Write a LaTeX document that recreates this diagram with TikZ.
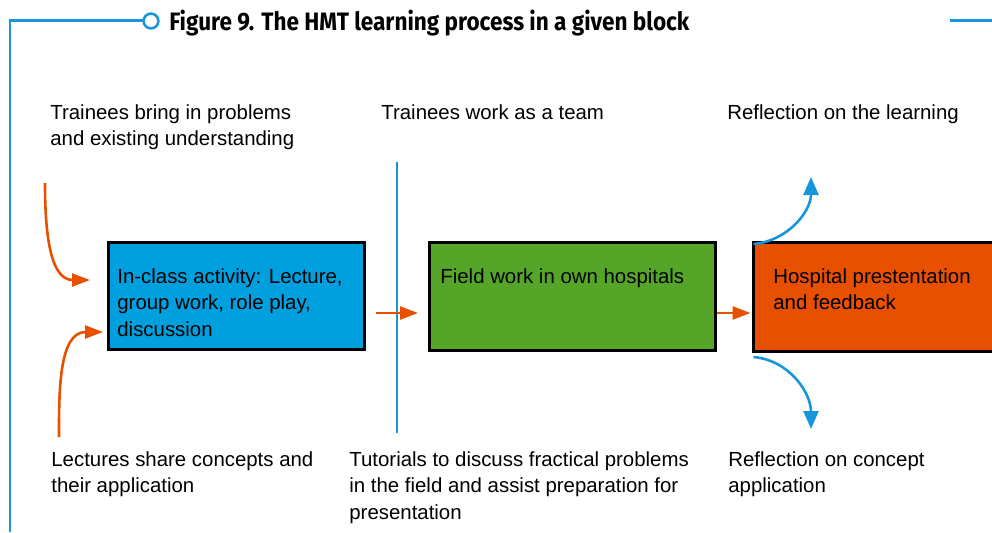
\documentclass[tikz,border=0pt]{standalone}
\usepackage{fontspec}
\usepackage{graphicx}
\usepackage{tikz}
\usetikzlibrary{arrows.meta}
\setmainfont{Liberation Sans}
\newfontfamily\titlefont{Fira Sans}
\definecolor{skybox}{RGB}{0,160,222}
\definecolor{grass}{RGB}{85,166,40}
\definecolor{ember}{RGB}{230,80,0}
\definecolor{azure}{RGB}{24,150,220}

\begin{document}
\begin{tikzpicture}[x=0.5pt, y=-0.5pt,
  box/.style={draw=black, line width=1.5pt, rectangle, inner sep=0pt},
  txt/.style={anchor=north west, inner sep=0pt, align=left, font=\fontsize{10.2}{13.25}\selectfont},
  orangearrow/.style={draw=ember, line width=1.3pt, -{Triangle[length=9pt,width=6.5pt]}},
  bluearrow/.style={draw=azure, line width=1.3pt, -{Triangle[length=9pt,width=7.5pt]}},
  frame/.style={draw=azure, line width=1.3pt}]
\useasboundingbox (0,0) rectangle (992,532);
\clip (0,0) rectangle (992,532);

% Frame and title
\draw[frame] (10,532) -- (10,20.5) -- (143,20.5);
\draw[frame] (151,21) circle (3.7pt);
\draw[frame] (950,20.5) -- (992,20.5);
\node[anchor=base west, inner sep=0pt] (title) at (169,30)
  {\resizebox{260pt}{\height}{\titlefont\bfseries\fontsize{12.6}{14}\selectfont Figure 9. The HMT learning process in a given block}};

% Boxes
\node[box, fill=skybox, minimum width=128pt, minimum height=53.5pt] (inclass) at (236.5,296) {};
\node[box, fill=grass, minimum width=143pt, minimum height=54pt] (field) at (572.5,296.5) {};
\node[box, fill=ember, minimum width=130pt, minimum height=54.5pt] (present) at (883.5,297) {};

\node[txt] (inclasstxt) at (117,268) {In-class activity: Lecture,\\group work, role play,\\discussion};
\node[txt] (fieldtxt) at (440,268) {Field work in own hospitals};
\node[txt] (presenttxt) at (773,268) {Hospital prestentation\\and feedback};

% Side texts
\node[txt] (bring) at (50,104) {Trainees bring in problems\\and existing understanding};
\node[txt] (team) at (381,104) {Trainees work as a team};
\node[txt] (refllearn) at (727,104) {Reflection on the learning};
\node[txt] (share) at (51,451) {Lectures share concepts and\\their application};
\node[txt] (tutor) at (349,451) {Tutorials to discuss fractical problems\\in the field and assist preparation for\\presentation};
\node[txt] (reflconc) at (728,451) {Reflection on concept\\application};

% Divider
\draw[azure, line width=1.1pt] (397,162) -- (397,433);

% Orange arrows
\coordinate (bringend) at (45,183);
\coordinate (shareend) at (59,437);
\draw[orangearrow] (bringend) to[out=-90, in=180] ([shift={(-17,-16)}]inclass.west);
\draw[orangearrow] (shareend) to[out=90, in=180] ([shift={(-4,36)}]inclass.west);
\draw[orangearrow] ([shift={(10,17)}]inclass.east) -- ([shift={(-10,16.5)}]field.west);
\draw[orangearrow] ([shift={(0,16.5)}]field.east) -- ([shift={(-1.5,16)}]present.west);

% Blue arrows
\coordinate (learnend) at (811,177);
\coordinate (concend) at (811,429);
\draw[bluearrow] ([shift={(1.5,3)}]present.north west) to[out=5, in=-90] (learnend);
\draw[bluearrow] ([shift={(1.5,4)}]present.south west) to[out=-5, in=90] (concend);
\end{tikzpicture}
\end{document}
